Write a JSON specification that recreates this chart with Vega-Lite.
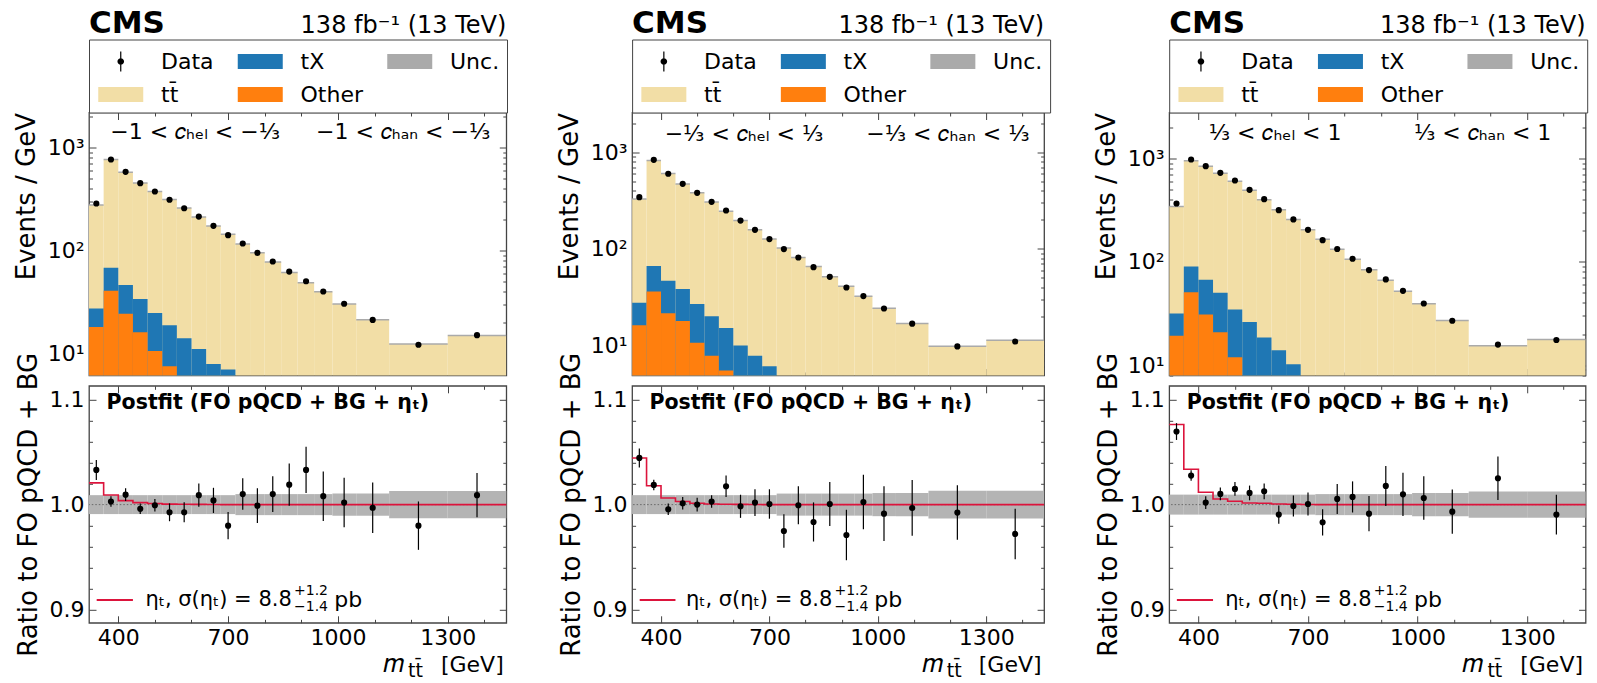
{
"$schema": "https://vega.github.io/schema/vega-lite/v6.json",
"padding": {"left": 12, "top": 6.5, "right": 5, "bottom": 5},
"config": {
  "font": "DejaVu Sans",
  "view": {"stroke": "#444", "strokeWidth": 1.3},
  "axis": {"grid": false, "domain": false, "tickColor": "#444", "tickWidth": 1, "labelFontSize": 22, "labelColor": "black", "labelFont": "DejaVu Sans", "titleFontSize": 26, "titleFontWeight": "normal", "titleColor": "black", "titleFont": "DejaVu Sans"},
  "text": {"font": "DejaVu Sans", "color": "black"}
},
"datasets": {
  "bins": [
{"p":1,"lo":320,"hi":360,"m":340,"tot":278,"txs":27.2,"oth":18,"d":287,"r":1.033,"rlo":1.0235,"rhi":1.0425,"ulo":0.991,"uhi":1.009},
{"p":1,"lo":360,"hi":400,"m":380,"tot":768,"txs":67.8,"oth":40.5,"d":770,"r":1.003,"rlo":0.998,"rhi":1.008,"ulo":0.991,"uhi":1.009},
{"p":1,"lo":400,"hi":440,"m":420,"tot":578,"txs":46.3,"oth":24.3,"d":584,"r":1.0095,"rlo":1.0035,"rhi":1.0155,"ulo":0.991,"uhi":1.009},
{"p":1,"lo":440,"hi":480,"m":460,"tot":455,"txs":33.8,"oth":16,"d":453,"r":0.996,"rlo":0.991,"rhi":1.001,"ulo":0.991,"uhi":1.009},
{"p":1,"lo":480,"hi":520,"m":500,"tot":376,"txs":24.7,"oth":10.5,"d":376,"r":0.9994,"rlo":0.9934,"rhi":1.0054,"ulo":0.991,"uhi":1.009},
{"p":1,"lo":520,"hi":560,"m":540,"tot":314,"txs":18.7,"oth":7.47,"d":312,"r":0.9927,"rlo":0.9842,"rhi":1.0012,"ulo":0.991,"uhi":1.009},
{"p":1,"lo":560,"hi":600,"m":580,"tot":260,"txs":14,"d":258,"r":0.9927,"rlo":0.9832,"rhi":1.0022,"ulo":0.991,"uhi":1.009},
{"p":1,"lo":600,"hi":640,"m":620,"tot":212,"txs":11,"d":214,"r":1.009,"rlo":0.998,"rhi":1.02,"ulo":0.991,"uhi":1.009},
{"p":1,"lo":640,"hi":680,"m":660,"tot":173,"txs":7.87,"d":174,"r":1.004,"rlo":0.992,"rhi":1.016,"ulo":0.991,"uhi":1.009},
{"p":1,"lo":680,"hi":720,"m":700,"tot":144,"txs":6.93,"d":141,"r":0.98,"rlo":0.967,"rhi":0.993,"ulo":0.991,"uhi":1.009},
{"p":1,"lo":720,"hi":760,"m":740,"tot":116,"d":117,"r":1.01,"rlo":0.995,"rhi":1.025,"ulo":0.99,"uhi":1.01},
{"p":1,"lo":760,"hi":800,"m":780,"tot":95,"d":94.9,"r":0.999,"rlo":0.9825,"rhi":1.0155,"ulo":0.99,"uhi":1.01},
{"p":1,"lo":800,"hi":845,"m":822,"tot":77.4,"d":78.2,"r":1.01,"rlo":0.993,"rhi":1.027,"ulo":0.99,"uhi":1.01},
{"p":1,"lo":845,"hi":890,"m":867,"tot":61.2,"d":62.4,"r":1.019,"rlo":0.999,"rhi":1.039,"ulo":0.99,"uhi":1.01},
{"p":1,"lo":890,"hi":935,"m":913,"tot":48.6,"d":50.2,"r":1.033,"rlo":1.011,"rhi":1.055,"ulo":0.99,"uhi":1.01},
{"p":1,"lo":935,"hi":985,"m":960,"tot":39.6,"d":39.9,"r":1.008,"rlo":0.9845,"rhi":1.0315,"ulo":0.99,"uhi":1.01},
{"p":1,"lo":985,"hi":1050,"m":1017,"tot":30.2,"d":30.3,"r":1.002,"rlo":0.9785,"rhi":1.0255,"ulo":0.9895,"uhi":1.0105},
{"p":1,"lo":1050,"hi":1140,"m":1095,"tot":21.2,"d":21.1,"r":0.997,"rlo":0.973,"rhi":1.021,"ulo":0.9895,"uhi":1.0105},
{"p":1,"lo":1140,"hi":1300,"m":1220,"tot":12.3,"d":12.1,"r":0.98,"rlo":0.957,"rhi":1.003,"ulo":0.987,"uhi":1.013},
{"p":1,"lo":1300,"hi":1460,"m":1380,"tot":14.9,"d":15,"r":1.009,"rlo":0.988,"rhi":1.03,"ulo":0.987,"uhi":1.013},
{"p":2,"lo":320,"hi":360,"m":340,"tot":327,"txs":27.6,"oth":16.2,"d":342,"r":1.0444,"rlo":1.0354,"rhi":1.0534,"ulo":0.991,"uhi":1.009},
{"p":2,"lo":360,"hi":400,"m":380,"tot":818,"txs":66.2,"oth":36.2,"d":833,"r":1.0187,"rlo":1.0137,"rhi":1.0237,"ulo":0.991,"uhi":1.009},
{"p":2,"lo":400,"hi":440,"m":420,"tot":600,"txs":46.7,"oth":21.6,"d":597,"r":0.9956,"rlo":0.9901,"rhi":1.0011,"ulo":0.991,"uhi":1.009},
{"p":2,"lo":440,"hi":480,"m":460,"tot":469,"txs":38.3,"oth":17.9,"d":470,"r":1.0013,"rlo":0.9953,"rhi":1.0073,"ulo":0.991,"uhi":1.009},
{"p":2,"lo":480,"hi":520,"m":500,"tot":379,"txs":26.8,"oth":10.7,"d":379,"r":1.0,"rlo":0.9935,"rhi":1.0065,"ulo":0.991,"uhi":1.009},
{"p":2,"lo":520,"hi":560,"m":540,"tot":305,"txs":20.1,"oth":7.82,"d":306,"r":1.0029,"rlo":0.9969,"rhi":1.0089,"ulo":0.991,"uhi":1.009},
{"p":2,"lo":560,"hi":600,"m":580,"tot":245,"txs":15.2,"oth":5.51,"d":249,"r":1.0175,"rlo":1.0072,"rhi":1.0278,"ulo":0.991,"uhi":1.009},
{"p":2,"lo":600,"hi":640,"m":620,"tot":196,"txs":10,"d":196,"r":0.9984,"rlo":0.9874,"rhi":1.0094,"ulo":0.991,"uhi":1.009},
{"p":2,"lo":640,"hi":680,"m":660,"tot":157,"txs":7.82,"d":157,"r":1.0019,"rlo":0.9892,"rhi":1.0146,"ulo":0.991,"uhi":1.009},
{"p":2,"lo":680,"hi":720,"m":700,"tot":126,"txs":6.11,"d":126,"r":1.0006,"rlo":0.9866,"rhi":1.0146,"ulo":0.991,"uhi":1.009},
{"p":2,"lo":720,"hi":760,"m":740,"tot":101.9,"d":99.3,"r":0.9749,"rlo":0.9589,"rhi":0.9909,"ulo":0.9895,"uhi":1.0105},
{"p":2,"lo":760,"hi":800,"m":780,"tot":81.3,"d":81.3,"r":0.9994,"rlo":0.9814,"rhi":1.0174,"ulo":0.9895,"uhi":1.0105},
{"p":2,"lo":800,"hi":845,"m":822,"tot":65.7,"d":64.6,"r":0.9835,"rlo":0.9649,"rhi":1.0021,"ulo":0.9895,"uhi":1.0105},
{"p":2,"lo":845,"hi":890,"m":867,"tot":51.3,"d":51.3,"r":1.0006,"rlo":0.9796,"rhi":1.0216,"ulo":0.9895,"uhi":1.0105},
{"p":2,"lo":890,"hi":935,"m":913,"tot":41,"d":39.8,"r":0.9711,"rlo":0.9471,"rhi":0.9951,"ulo":0.9895,"uhi":1.0105},
{"p":2,"lo":935,"hi":985,"m":960,"tot":32.3,"d":32.4,"r":1.0025,"rlo":0.9765,"rhi":1.0285,"ulo":0.9895,"uhi":1.0105},
{"p":2,"lo":985,"hi":1050,"m":1017,"tot":24.3,"d":24.1,"r":0.9914,"rlo":0.9654,"rhi":1.0174,"ulo":0.989,"uhi":1.011},
{"p":2,"lo":1050,"hi":1140,"m":1095,"tot":16.9,"d":16.8,"r":0.9968,"rlo":0.9703,"rhi":1.0233,"ulo":0.989,"uhi":1.011},
{"p":2,"lo":1140,"hi":1300,"m":1220,"tot":9.84,"d":9.77,"r":0.9924,"rlo":0.9665,"rhi":1.0183,"ulo":0.9867,"uhi":1.0133},
{"p":2,"lo":1300,"hi":1460,"m":1380,"tot":11.3,"d":11,"r":0.9721,"rlo":0.9481,"rhi":0.9961,"ulo":0.9867,"uhi":1.0133},
{"p":3,"lo":320,"hi":360,"m":340,"tot":343,"txs":31.6,"oth":19.2,"d":367,"r":1.0695,"rlo":1.0615,"rhi":1.0775,"ulo":0.9905,"uhi":1.0095},
{"p":3,"lo":360,"hi":400,"m":380,"tot":952,"txs":90.2,"oth":50.8,"d":978,"r":1.0276,"rlo":1.0226,"rhi":1.0326,"ulo":0.9905,"uhi":1.0095},
{"p":3,"lo":400,"hi":440,"m":420,"tot":841,"txs":67,"oth":30.9,"d":843,"r":1.0019,"rlo":0.9959,"rhi":1.0079,"ulo":0.9905,"uhi":1.0095},
{"p":3,"lo":440,"hi":480,"m":460,"tot":719,"txs":50.1,"oth":20.8,"d":726,"r":1.0102,"rlo":1.0042,"rhi":1.0162,"ulo":0.9905,"uhi":1.0095},
{"p":3,"lo":480,"hi":520,"m":500,"tot":603,"txs":34.6,"oth":11.9,"d":612,"r":1.0149,"rlo":1.0084,"rhi":1.0214,"ulo":0.9905,"uhi":1.0095},
{"p":3,"lo":520,"hi":560,"m":540,"tot":492,"txs":26.1,"d":497,"r":1.0111,"rlo":1.0041,"rhi":1.0181,"ulo":0.9905,"uhi":1.0095},
{"p":3,"lo":560,"hi":600,"m":580,"tot":399,"txs":18.5,"d":404,"r":1.0127,"rlo":1.0052,"rhi":1.0202,"ulo":0.9905,"uhi":1.0095},
{"p":3,"lo":600,"hi":640,"m":620,"tot":319,"txs":13.9,"d":316,"r":0.9905,"rlo":0.9818,"rhi":0.9992,"ulo":0.9905,"uhi":1.0095},
{"p":3,"lo":640,"hi":680,"m":660,"tot":257,"txs":10.2,"d":257,"r":0.9987,"rlo":0.9887,"rhi":1.0087,"ulo":0.9905,"uhi":1.0095},
{"p":3,"lo":680,"hi":720,"m":700,"tot":204,"d":204,"r":1.0006,"rlo":0.9896,"rhi":1.0116,"ulo":0.9905,"uhi":1.0095},
{"p":3,"lo":720,"hi":760,"m":740,"tot":165,"d":162,"r":0.9832,"rlo":0.9707,"rhi":0.9957,"ulo":0.99,"uhi":1.01},
{"p":3,"lo":760,"hi":800,"m":780,"tot":132,"d":133,"r":1.0054,"rlo":0.9911,"rhi":1.0197,"ulo":0.99,"uhi":1.01},
{"p":3,"lo":800,"hi":845,"m":822,"tot":106,"d":107,"r":1.0073,"rlo":0.9925,"rhi":1.0221,"ulo":0.99,"uhi":1.01},
{"p":3,"lo":845,"hi":890,"m":867,"tot":83.8,"d":83.1,"r":0.9914,"rlo":0.9747,"rhi":1.0081,"ulo":0.99,"uhi":1.01},
{"p":3,"lo":890,"hi":935,"m":913,"tot":66.3,"d":67.5,"r":1.0178,"rlo":0.9988,"rhi":1.0368,"ulo":0.99,"uhi":1.01},
{"p":3,"lo":935,"hi":985,"m":960,"tot":51.9,"d":52.4,"r":1.0098,"rlo":0.9892,"rhi":1.0304,"ulo":0.99,"uhi":1.01},
{"p":3,"lo":985,"hi":1050,"m":1017,"tot":39.3,"d":39.5,"r":1.0063,"rlo":0.9857,"rhi":1.0269,"ulo":0.989,"uhi":1.011},
{"p":3,"lo":1050,"hi":1140,"m":1095,"tot":27.1,"d":26.9,"r":0.9933,"rlo":0.9723,"rhi":1.0143,"ulo":0.989,"uhi":1.011},
{"p":3,"lo":1140,"hi":1300,"m":1220,"tot":15.4,"d":15.8,"r":1.0251,"rlo":1.0045,"rhi":1.0457,"ulo":0.9875,"uhi":1.0125},
{"p":3,"lo":1300,"hi":1460,"m":1380,"tot":17.7,"d":17.5,"r":0.9905,"rlo":0.9715,"rhi":1.0095,"ulo":0.9875,"uhi":1.0125}
  ],
  "eta": [
{"p":1,"x":320,"e":1.0207},{"p":1,"x":360,"e":1.0092},{"p":1,"x":400,"e":1.0038},{"p":1,"x":440,"e":1.0019},{"p":1,"x":480,"e":1.001},{"p":1,"x":520,"e":1.0005},{"p":1,"x":560,"e":1.0003},{"p":1,"x":600,"e":1.0002},{"p":1,"x":640,"e":1.0001},{"p":1,"x":680,"e":1},{"p":1,"x":720,"e":1},{"p":1,"x":760,"e":1},{"p":1,"x":800,"e":1},{"p":1,"x":845,"e":1},{"p":1,"x":890,"e":1},{"p":1,"x":935,"e":1},{"p":1,"x":985,"e":1},{"p":1,"x":1050,"e":1},{"p":1,"x":1140,"e":1},{"p":1,"x":1300,"e":1},{"p":1,"x":1460,"e":1},
{"p":2,"x":320,"e":1.0444},{"p":2,"x":360,"e":1.018},{"p":2,"x":400,"e":1.0063},{"p":2,"x":440,"e":1.003},{"p":2,"x":480,"e":1.0013},{"p":2,"x":520,"e":1.0006},{"p":2,"x":560,"e":1.0003},{"p":2,"x":600,"e":1.0002},{"p":2,"x":640,"e":1.0001},{"p":2,"x":680,"e":1},{"p":2,"x":720,"e":1},{"p":2,"x":760,"e":1},{"p":2,"x":800,"e":1},{"p":2,"x":845,"e":1},{"p":2,"x":890,"e":1},{"p":2,"x":935,"e":1},{"p":2,"x":985,"e":1},{"p":2,"x":1050,"e":1},{"p":2,"x":1140,"e":1},{"p":2,"x":1300,"e":1},{"p":2,"x":1460,"e":1},
{"p":3,"x":320,"e":1.0762},{"p":3,"x":360,"e":1.0337},{"p":3,"x":400,"e":1.0117},{"p":3,"x":440,"e":1.0054},{"p":3,"x":480,"e":1.0032},{"p":3,"x":520,"e":1.0016},{"p":3,"x":560,"e":1.0013},{"p":3,"x":600,"e":1.0006},{"p":3,"x":640,"e":1.0003},{"p":3,"x":680,"e":1.0001},{"p":3,"x":720,"e":1},{"p":3,"x":760,"e":1},{"p":3,"x":800,"e":1},{"p":3,"x":845,"e":1},{"p":3,"x":890,"e":1},{"p":3,"x":935,"e":1},{"p":3,"x":985,"e":1},{"p":3,"x":1050,"e":1},{"p":3,"x":1140,"e":1},{"p":3,"x":1300,"e":1},{"p":3,"x":1460,"e":1}
  ]
},
"resolve": {"scale": {"color": "independent"}},
"bounds": "flush",
"align": "each",
"columns": 3,
"spacing": {"row": 10.3, "column": 125.1},
"concat": [
  {
   "width": 417.3, "height": 263,
   "resolve": {"axis": {"x": "independent", "y": "independent"}},
   "layer": [
    {"data": {"name": "bins"}, "transform": [{"filter": "datum.p == 1"}],
     "mark": {"type": "rect", "clip": true},
     "encoding": {
      "x": {"field": "lo", "type": "quantitative", "scale": {"domain": [320, 1460], "nice": false, "zero": false},
            "axis": {"orient": "bottom", "values": [400,500,600,700,800,900,1000,1100,1200,1300,1400], "labels": false, "title": null, "tickSize": {"expr": "datum.value % 300 == 100 ? -7 : -3.5"}}},
      "x2": {"field": "hi"},
      "y": {"field": "tot", "type": "quantitative", "scale": {"type": "log", "domain": [6.07, 2208], "nice": false},
            "axis": {"orient": "left", "values": [7,8,9,10,20,30,40,50,60,70,80,90,100,200,300,400,500,600,700,800,900,1000,2000], "labelExpr": "datum.value == 10 ? '10¹' : datum.value == 100 ? '10²' : datum.value == 1000 ? '10³' : ''", "tickSize": {"expr": "(datum.value == 10 || datum.value == 100 || datum.value == 1000) ? -7 : -3.5"}, "labelPadding": 12, "title": "Events / GeV", "titleAnchor": "end", "titlePadding": 8}},
      "y2": {"datum": 1},
      "color": {"datum": "tt̄", "scale": {"domain": ["Data", "tX", "Unc.", "tt̄", "Other"], "range": ["black", "#1f77b4", "#aaaaaa", "#f2dea6", "#ff7f0e"]},
        "legend": {"orient": "none", "direction": "horizontal", "legendX": 0, "legendY": -73, "columns": 3, "title": null, "strokeColor": "#444", "fillColor": "white", "padding": 7, "rowPadding": 7, "columnPadding": 21.5, "symbolSize": 900, "labelFontSize": 22, "labelFont": "DejaVu Sans", "labelColor": "black", "labelOffset": 35, "labelLimit": 300, "symbolStrokeWidth": 0, "cornerRadius": 0,
          "encode": {"symbols": {"update": {
            "shape": [{"test": "datum.value === 'Data'", "value": "M0.43,0A0.22,0.22,0,1,1,0.87,0A0.22,0.22,0,1,1,0.43,0ZM0.61,-0.67H0.69V0.67H0.61Z"}, {"value": "M-0.85,-0.5H2.15V0.5H-0.85Z"}],
            "fill": [{"test": "datum.value === 'Data'", "value": "black"}, {"test": "datum.value === 'tX'", "value": "#1f77b4"}, {"test": "datum.value === 'Unc.'", "value": "#aaaaaa"}, {"test": "datum.value === 'Other'", "value": "#ff7f0e"}, {"value": "#f2dea6"}],
            "opacity": {"value": 1},
            "strokeWidth": {"value": 0}
          }}}}}
     }},
    {"data": {"name": "bins"}, "transform": [{"filter": "datum.p == 1 && isValid(datum.txs)"}],
     "mark": {"type": "rect", "clip": true},
     "encoding": {"x": {"field": "lo", "type": "quantitative", "axis": null}, "x2": {"field": "hi"}, "y": {"field": "txs", "type": "quantitative", "axis": null}, "y2": {"datum": 1}, "color": {"datum": "tX"}}},
    {"data": {"name": "bins"}, "transform": [{"filter": "datum.p == 1 && isValid(datum.oth)"}],
     "mark": {"type": "rect", "clip": true},
     "encoding": {"x": {"field": "lo", "type": "quantitative", "axis": null}, "x2": {"field": "hi"}, "y": {"field": "oth", "type": "quantitative", "axis": null}, "y2": {"datum": 1}, "color": {"datum": "Other"}}},
    {"data": {"name": "bins"}, "transform": [{"filter": "datum.p == 1"}],
     "mark": {"type": "rule", "strokeWidth": 1.5, "clip": true},
     "encoding": {"x": {"field": "lo", "type": "quantitative", "axis": null}, "x2": {"field": "hi"}, "y": {"field": "tot", "type": "quantitative", "axis": null}, "color": {"datum": "Unc."}}},
    {"data": {"name": "bins"}, "transform": [{"filter": "datum.p == 1"}],
     "mark": {"type": "point", "filled": true, "size": 38, "opacity": 1},
     "encoding": {
      "x": {"field": "m", "type": "quantitative", "axis": {"orient": "top", "values": [400,500,600,700,800,900,1000,1100,1200,1300,1400], "labels": false, "title": null, "tickSize": {"expr": "datum.value % 300 == 100 ? -7 : -3.5"}}},
      "y": {"field": "d", "type": "quantitative", "axis": {"orient": "right", "values": [7,8,9,10,20,30,40,50,60,70,80,90,100,200,300,400,500,600,700,800,900,1000,2000], "labels": false, "title": null, "tickSize": {"expr": "(datum.value == 10 || datum.value == 100 || datum.value == 1000) ? -7 : -3.5"}}},
      "color": {"datum": "Data"}}},
    {"data": {"values": [{"t": "−1 < 𝑐ₕₑₗ < −⅓"}]}, "mark": {"type": "text", "align": "left", "baseline": "middle", "fontSize": 22},
     "encoding": {"x": {"datum": 378, "axis": null}, "y": {"datum": 1419, "axis": null}, "text": {"field": "t"}}},
    {"data": {"values": [{"t": "−1 < 𝑐ₕₐₙ < −⅓"}]}, "mark": {"type": "text", "align": "left", "baseline": "middle", "fontSize": 22},
     "encoding": {"x": {"datum": 940, "axis": null}, "y": {"datum": 1419, "axis": null}, "text": {"field": "t"}}},
    {"data": {"values": [{"t": "CMS"}]}, "mark": {"type": "text", "align": "left", "baseline": "alphabetic", "fontSize": 31, "fontWeight": "bold"},
     "encoding": {"x": {"datum": 320, "axis": null}, "y": {"datum": 13130, "axis": null}, "text": {"field": "t"}}},
    {"data": {"values": [{"t": "138 fb⁻¹ (13 TeV)"}]}, "mark": {"type": "text", "align": "right", "baseline": "alphabetic", "fontSize": 24},
     "encoding": {"x": {"datum": 1460, "axis": null}, "y": {"datum": 13130, "axis": null}, "text": {"field": "t"}}}
   ]
  },
  {
   "width": 412, "height": 263,
   "resolve": {"axis": {"x": "independent", "y": "independent"}},
   "layer": [
    {"data": {"name": "bins"}, "transform": [{"filter": "datum.p == 2"}],
     "mark": {"type": "rect", "clip": true},
     "encoding": {
      "x": {"field": "lo", "type": "quantitative", "scale": {"domain": [320, 1460], "nice": false, "zero": false},
            "axis": {"orient": "bottom", "values": [400,500,600,700,800,900,1000,1100,1200,1300,1400], "labels": false, "title": null, "tickSize": {"expr": "datum.value % 300 == 100 ? -7 : -3.5"}}},
      "x2": {"field": "hi"},
      "y": {"field": "tot", "type": "quantitative", "scale": {"type": "log", "domain": [4.89, 2570], "nice": false},
            "axis": {"orient": "left", "values": [5,6,7,8,9,10,20,30,40,50,60,70,80,90,100,200,300,400,500,600,700,800,900,1000,2000], "labelExpr": "datum.value == 10 ? '10¹' : datum.value == 100 ? '10²' : datum.value == 1000 ? '10³' : ''", "tickSize": {"expr": "(datum.value == 10 || datum.value == 100 || datum.value == 1000) ? -7 : -3.5"}, "labelPadding": 12, "title": "Events / GeV", "titleAnchor": "end", "titlePadding": 8}},
      "y2": {"datum": 1},
      "color": {"datum": "tt̄", "scale": {"domain": ["Data", "tX", "Unc.", "tt̄", "Other"], "range": ["black", "#1f77b4", "#aaaaaa", "#f2dea6", "#ff7f0e"]},
        "legend": {"orient": "none", "direction": "horizontal", "legendX": 0, "legendY": -73, "columns": 3, "title": null, "strokeColor": "#444", "fillColor": "white", "padding": 7, "rowPadding": 7, "columnPadding": 21.5, "symbolSize": 900, "labelFontSize": 22, "labelFont": "DejaVu Sans", "labelColor": "black", "labelOffset": 35, "labelLimit": 300, "symbolStrokeWidth": 0, "cornerRadius": 0,
          "encode": {"symbols": {"update": {
            "shape": [{"test": "datum.value === 'Data'", "value": "M0.43,0A0.22,0.22,0,1,1,0.87,0A0.22,0.22,0,1,1,0.43,0ZM0.61,-0.67H0.69V0.67H0.61Z"}, {"value": "M-0.85,-0.5H2.15V0.5H-0.85Z"}],
            "fill": [{"test": "datum.value === 'Data'", "value": "black"}, {"test": "datum.value === 'tX'", "value": "#1f77b4"}, {"test": "datum.value === 'Unc.'", "value": "#aaaaaa"}, {"test": "datum.value === 'Other'", "value": "#ff7f0e"}, {"value": "#f2dea6"}],
            "opacity": {"value": 1},
            "strokeWidth": {"value": 0}
          }}}}}
     }},
    {"data": {"name": "bins"}, "transform": [{"filter": "datum.p == 2 && isValid(datum.txs)"}],
     "mark": {"type": "rect", "clip": true},
     "encoding": {"x": {"field": "lo", "type": "quantitative", "axis": null}, "x2": {"field": "hi"}, "y": {"field": "txs", "type": "quantitative", "axis": null}, "y2": {"datum": 1}, "color": {"datum": "tX"}}},
    {"data": {"name": "bins"}, "transform": [{"filter": "datum.p == 2 && isValid(datum.oth)"}],
     "mark": {"type": "rect", "clip": true},
     "encoding": {"x": {"field": "lo", "type": "quantitative", "axis": null}, "x2": {"field": "hi"}, "y": {"field": "oth", "type": "quantitative", "axis": null}, "y2": {"datum": 1}, "color": {"datum": "Other"}}},
    {"data": {"name": "bins"}, "transform": [{"filter": "datum.p == 2"}],
     "mark": {"type": "rule", "strokeWidth": 1.5, "clip": true},
     "encoding": {"x": {"field": "lo", "type": "quantitative", "axis": null}, "x2": {"field": "hi"}, "y": {"field": "tot", "type": "quantitative", "axis": null}, "color": {"datum": "Unc."}}},
    {"data": {"name": "bins"}, "transform": [{"filter": "datum.p == 2"}],
     "mark": {"type": "point", "filled": true, "size": 38, "opacity": 1},
     "encoding": {
      "x": {"field": "m", "type": "quantitative", "axis": {"orient": "top", "values": [400,500,600,700,800,900,1000,1100,1200,1300,1400], "labels": false, "title": null, "tickSize": {"expr": "datum.value % 300 == 100 ? -7 : -3.5"}}},
      "y": {"field": "d", "type": "quantitative", "axis": {"orient": "right", "values": [5,6,7,8,9,10,20,30,40,50,60,70,80,90,100,200,300,400,500,600,700,800,900,1000,2000], "labels": false, "title": null, "tickSize": {"expr": "(datum.value == 10 || datum.value == 100 || datum.value == 1000) ? -7 : -3.5"}}},
      "color": {"datum": "Data"}}},
    {"data": {"values": [{"t": "−⅓ < 𝑐ₕₑₗ < ⅓"}]}, "mark": {"type": "text", "align": "left", "baseline": "middle", "fontSize": 22},
     "encoding": {"x": {"datum": 410, "axis": null}, "y": {"datum": 1549, "axis": null}, "text": {"field": "t"}}},
    {"data": {"values": [{"t": "−⅓ < 𝑐ₕₐₙ < ⅓"}]}, "mark": {"type": "text", "align": "left", "baseline": "middle", "fontSize": 22},
     "encoding": {"x": {"datum": 968, "axis": null}, "y": {"datum": 1549, "axis": null}, "text": {"field": "t"}}},
    {"data": {"values": [{"t": "CMS"}]}, "mark": {"type": "text", "align": "left", "baseline": "alphabetic", "fontSize": 31, "fontWeight": "bold"},
     "encoding": {"x": {"datum": 320, "axis": null}, "y": {"datum": 17060, "axis": null}, "text": {"field": "t"}}},
    {"data": {"values": [{"t": "138 fb⁻¹ (13 TeV)"}]}, "mark": {"type": "text", "align": "right", "baseline": "alphabetic", "fontSize": 24},
     "encoding": {"x": {"datum": 1460, "axis": null}, "y": {"datum": 17060, "axis": null}, "text": {"field": "t"}}}
   ]
  },
  {
   "width": 416.4, "height": 263,
   "resolve": {"axis": {"x": "independent", "y": "independent"}},
   "layer": [
    {"data": {"name": "bins"}, "transform": [{"filter": "datum.p == 3"}],
     "mark": {"type": "rect", "clip": true},
     "encoding": {
      "x": {"field": "lo", "type": "quantitative", "scale": {"domain": [320, 1460], "nice": false, "zero": false},
            "axis": {"orient": "bottom", "values": [400,500,600,700,800,900,1000,1100,1200,1300,1400], "labels": false, "title": null, "tickSize": {"expr": "datum.value % 300 == 100 ? -7 : -3.5"}}},
      "x2": {"field": "hi"},
      "y": {"field": "tot", "type": "quantitative", "scale": {"type": "log", "domain": [7.94, 2786], "nice": false},
            "axis": {"orient": "left", "values": [8,9,10,20,30,40,50,60,70,80,90,100,200,300,400,500,600,700,800,900,1000,2000], "labelExpr": "datum.value == 10 ? '10¹' : datum.value == 100 ? '10²' : datum.value == 1000 ? '10³' : ''", "tickSize": {"expr": "(datum.value == 10 || datum.value == 100 || datum.value == 1000) ? -7 : -3.5"}, "labelPadding": 12, "title": "Events / GeV", "titleAnchor": "end", "titlePadding": 8}},
      "y2": {"datum": 1},
      "color": {"datum": "tt̄", "scale": {"domain": ["Data", "tX", "Unc.", "tt̄", "Other"], "range": ["black", "#1f77b4", "#aaaaaa", "#f2dea6", "#ff7f0e"]},
        "legend": {"orient": "none", "direction": "horizontal", "legendX": 0, "legendY": -73, "columns": 3, "title": null, "strokeColor": "#444", "fillColor": "white", "padding": 7, "rowPadding": 7, "columnPadding": 21.5, "symbolSize": 900, "labelFontSize": 22, "labelFont": "DejaVu Sans", "labelColor": "black", "labelOffset": 35, "labelLimit": 300, "symbolStrokeWidth": 0, "cornerRadius": 0,
          "encode": {"symbols": {"update": {
            "shape": [{"test": "datum.value === 'Data'", "value": "M0.43,0A0.22,0.22,0,1,1,0.87,0A0.22,0.22,0,1,1,0.43,0ZM0.61,-0.67H0.69V0.67H0.61Z"}, {"value": "M-0.85,-0.5H2.15V0.5H-0.85Z"}],
            "fill": [{"test": "datum.value === 'Data'", "value": "black"}, {"test": "datum.value === 'tX'", "value": "#1f77b4"}, {"test": "datum.value === 'Unc.'", "value": "#aaaaaa"}, {"test": "datum.value === 'Other'", "value": "#ff7f0e"}, {"value": "#f2dea6"}],
            "opacity": {"value": 1},
            "strokeWidth": {"value": 0}
          }}}}}
     }},
    {"data": {"name": "bins"}, "transform": [{"filter": "datum.p == 3 && isValid(datum.txs)"}],
     "mark": {"type": "rect", "clip": true},
     "encoding": {"x": {"field": "lo", "type": "quantitative", "axis": null}, "x2": {"field": "hi"}, "y": {"field": "txs", "type": "quantitative", "axis": null}, "y2": {"datum": 1}, "color": {"datum": "tX"}}},
    {"data": {"name": "bins"}, "transform": [{"filter": "datum.p == 3 && isValid(datum.oth)"}],
     "mark": {"type": "rect", "clip": true},
     "encoding": {"x": {"field": "lo", "type": "quantitative", "axis": null}, "x2": {"field": "hi"}, "y": {"field": "oth", "type": "quantitative", "axis": null}, "y2": {"datum": 1}, "color": {"datum": "Other"}}},
    {"data": {"name": "bins"}, "transform": [{"filter": "datum.p == 3"}],
     "mark": {"type": "rule", "strokeWidth": 1.5, "clip": true},
     "encoding": {"x": {"field": "lo", "type": "quantitative", "axis": null}, "x2": {"field": "hi"}, "y": {"field": "tot", "type": "quantitative", "axis": null}, "color": {"datum": "Unc."}}},
    {"data": {"name": "bins"}, "transform": [{"filter": "datum.p == 3"}],
     "mark": {"type": "point", "filled": true, "size": 38, "opacity": 1},
     "encoding": {
      "x": {"field": "m", "type": "quantitative", "axis": {"orient": "top", "values": [400,500,600,700,800,900,1000,1100,1200,1300,1400], "labels": false, "title": null, "tickSize": {"expr": "datum.value % 300 == 100 ? -7 : -3.5"}}},
      "y": {"field": "d", "type": "quantitative", "axis": {"orient": "right", "values": [8,9,10,20,30,40,50,60,70,80,90,100,200,300,400,500,600,700,800,900,1000,2000], "labels": false, "title": null, "tickSize": {"expr": "(datum.value == 10 || datum.value == 100 || datum.value == 1000) ? -7 : -3.5"}}},
      "color": {"datum": "Data"}}},
    {"data": {"values": [{"t": "⅓ < 𝑐ₕₑₗ < 1"}]}, "mark": {"type": "text", "align": "left", "baseline": "middle", "fontSize": 22},
     "encoding": {"x": {"datum": 428, "axis": null}, "y": {"datum": 1746, "axis": null}, "text": {"field": "t"}}},
    {"data": {"values": [{"t": "⅓ < 𝑐ₕₐₙ < 1"}]}, "mark": {"type": "text", "align": "left", "baseline": "middle", "fontSize": 22},
     "encoding": {"x": {"datum": 990, "axis": null}, "y": {"datum": 1746, "axis": null}, "text": {"field": "t"}}},
    {"data": {"values": [{"t": "CMS"}]}, "mark": {"type": "text", "align": "left", "baseline": "alphabetic", "fontSize": 31, "fontWeight": "bold"},
     "encoding": {"x": {"datum": 320, "axis": null}, "y": {"datum": 16370, "axis": null}, "text": {"field": "t"}}},
    {"data": {"values": [{"t": "138 fb⁻¹ (13 TeV)"}]}, "mark": {"type": "text", "align": "right", "baseline": "alphabetic", "fontSize": 24},
     "encoding": {"x": {"datum": 1460, "axis": null}, "y": {"datum": 16370, "axis": null}, "text": {"field": "t"}}}
   ]
  },
  {
   "width": 417.3, "height": 237,
   "resolve": {"axis": {"x": "independent", "y": "independent"}},
   "layer": [
    {"data": {"name": "bins"}, "transform": [{"filter": "datum.p == 1"}],
     "mark": {"type": "rect", "color": "#b4b4b4"},
     "encoding": {
      "x": {"field": "lo", "type": "quantitative", "scale": {"domain": [320, 1460], "nice": false, "zero": false},
            "axis": {"orient": "bottom", "values": [400,500,600,700,800,900,1000,1100,1200,1300,1400], "format": "d", "labelExpr": "datum.value % 300 == 100 ? datum.label : ''", "tickSize": {"expr": "datum.value % 300 == 100 ? -7 : -3.5"}, "labelPadding": 12, "title": null}},
      "x2": {"field": "hi"},
      "y": {"field": "ulo", "type": "quantitative", "scale": {"domain": [0.8876, 1.113], "nice": false, "zero": false},
            "axis": {"orient": "left", "values": [0.9,0.92,0.94,0.96,0.98,1,1.02,1.04,1.06,1.08,1.1], "labelExpr": "abs(datum.value*10 - round(datum.value*10)) < 0.001 ? format(datum.value, '.1f') : ''", "tickSize": {"expr": "abs(datum.value*10 - round(datum.value*10)) < 0.001 ? -7 : -3.5"}, "labelPadding": 12, "title": "Ratio to FO pQCD + BG", "titlePadding": 8}},
      "y2": {"field": "uhi"}}},
    {"data": {"values": [{}]}, "mark": {"type": "rule", "strokeDash": [1.5, 2], "color": "#555", "strokeWidth": 0.8},
     "encoding": {"y": {"datum": 1, "axis": null}}},
    {"data": {"name": "eta"}, "transform": [{"filter": "datum.p == 1"}],
     "mark": {"type": "line", "interpolate": "step-after", "color": "#dc143c", "strokeWidth": 1.6},
     "encoding": {
      "x": {"field": "x", "type": "quantitative", "axis": {"orient": "top", "values": [400,500,600,700,800,900,1000,1100,1200,1300,1400], "labels": false, "title": null, "tickSize": {"expr": "datum.value % 300 == 100 ? -7 : -3.5"}}},
      "y": {"field": "e", "type": "quantitative", "axis": {"orient": "right", "values": [0.9,0.92,0.94,0.96,0.98,1,1.02,1.04,1.06,1.08,1.1], "labels": false, "title": null, "tickSize": {"expr": "abs(datum.value*10 - round(datum.value*10)) < 0.001 ? -7 : -3.5"}}}}},
    {"data": {"name": "bins"}, "transform": [{"filter": "datum.p == 1"}],
     "mark": {"type": "rule", "color": "black", "strokeWidth": 1.2},
     "encoding": {"x": {"field": "m", "type": "quantitative", "axis": null}, "y": {"field": "rlo", "type": "quantitative", "axis": null}, "y2": {"field": "rhi"}}},
    {"data": {"name": "bins"}, "transform": [{"filter": "datum.p == 1"}],
     "mark": {"type": "point", "filled": true, "size": 38, "color": "black", "opacity": 1},
     "encoding": {"x": {"field": "m", "type": "quantitative", "axis": null}, "y": {"field": "r", "type": "quantitative", "axis": null}}},
    {"data": {"values": [{}]}, "mark": {"type": "rule", "color": "#dc143c", "strokeWidth": 2},
     "encoding": {"x": {"datum": 341, "axis": null}, "x2": {"datum": 440}, "y": {"datum": 0.9092, "axis": null}}},
    {"data": {"values": [{"t": "ηₜ, σ(ηₜ) = 8.8"}]}, "mark": {"type": "text", "align": "right", "baseline": "middle", "fontSize": 21},
     "encoding": {"x": {"datum": 874, "axis": null}, "y": {"datum": 0.9092, "axis": null}, "text": {"field": "t"}}},
    {"data": {"values": [{"t": "+1.2"}]}, "mark": {"type": "text", "align": "left", "baseline": "middle", "fontSize": 14},
     "encoding": {"x": {"datum": 880, "axis": null}, "y": {"datum": 0.9174, "axis": null}, "text": {"field": "t"}}},
    {"data": {"values": [{"t": "−1.4"}]}, "mark": {"type": "text", "align": "left", "baseline": "middle", "fontSize": 14},
     "encoding": {"x": {"datum": 880, "axis": null}, "y": {"datum": 0.9028, "axis": null}, "text": {"field": "t"}}},
    {"data": {"values": [{"t": "pb"}]}, "mark": {"type": "text", "align": "left", "baseline": "middle", "fontSize": 22},
     "encoding": {"x": {"datum": 990, "axis": null}, "y": {"datum": 0.9092, "axis": null}, "text": {"field": "t"}}},
    {"data": {"values": [{"t": "Postfit (FO pQCD + BG + ηₜ)"}]}, "mark": {"type": "text", "align": "left", "baseline": "middle", "fontSize": 20.5, "fontWeight": "bold"},
     "encoding": {"x": {"datum": 368, "axis": null}, "y": {"datum": 1.0965, "axis": null}, "text": {"field": "t"}}},
    {"data": {"values": [{"t": "[GeV]"}]}, "mark": {"type": "text", "align": "right", "baseline": "alphabetic", "fontSize": 22},
     "encoding": {"x": {"datum": 1453, "axis": null}, "y": {"datum": 0.8405, "axis": null}, "text": {"field": "t"}}},
    {"data": {"values": [{"t": "tt̄"}]}, "mark": {"type": "text", "align": "right", "baseline": "alphabetic", "fontSize": 19},
     "encoding": {"x": {"datum": 1232, "axis": null}, "y": {"datum": 0.8362, "axis": null}, "text": {"field": "t"}}},
    {"data": {"values": [{"t": "𝑚"}]}, "mark": {"type": "text", "align": "right", "baseline": "alphabetic", "fontSize": 26},
     "encoding": {"x": {"datum": 1180, "axis": null}, "y": {"datum": 0.8405, "axis": null}, "text": {"field": "t"}}}
   ]
  },
  {
   "width": 412, "height": 237,
   "resolve": {"axis": {"x": "independent", "y": "independent"}},
   "layer": [
    {"data": {"name": "bins"}, "transform": [{"filter": "datum.p == 2"}],
     "mark": {"type": "rect", "color": "#b4b4b4"},
     "encoding": {
      "x": {"field": "lo", "type": "quantitative", "scale": {"domain": [320, 1460], "nice": false, "zero": false},
            "axis": {"orient": "bottom", "values": [400,500,600,700,800,900,1000,1100,1200,1300,1400], "format": "d", "labelExpr": "datum.value % 300 == 100 ? datum.label : ''", "tickSize": {"expr": "datum.value % 300 == 100 ? -7 : -3.5"}, "labelPadding": 12, "title": null}},
      "x2": {"field": "hi"},
      "y": {"field": "ulo", "type": "quantitative", "scale": {"domain": [0.8876, 1.113], "nice": false, "zero": false},
            "axis": {"orient": "left", "values": [0.9,0.92,0.94,0.96,0.98,1,1.02,1.04,1.06,1.08,1.1], "labelExpr": "abs(datum.value*10 - round(datum.value*10)) < 0.001 ? format(datum.value, '.1f') : ''", "tickSize": {"expr": "abs(datum.value*10 - round(datum.value*10)) < 0.001 ? -7 : -3.5"}, "labelPadding": 12, "title": "Ratio to FO pQCD + BG", "titlePadding": 8}},
      "y2": {"field": "uhi"}}},
    {"data": {"values": [{}]}, "mark": {"type": "rule", "strokeDash": [1.5, 2], "color": "#555", "strokeWidth": 0.8},
     "encoding": {"y": {"datum": 1, "axis": null}}},
    {"data": {"name": "eta"}, "transform": [{"filter": "datum.p == 2"}],
     "mark": {"type": "line", "interpolate": "step-after", "color": "#dc143c", "strokeWidth": 1.6},
     "encoding": {
      "x": {"field": "x", "type": "quantitative", "axis": {"orient": "top", "values": [400,500,600,700,800,900,1000,1100,1200,1300,1400], "labels": false, "title": null, "tickSize": {"expr": "datum.value % 300 == 100 ? -7 : -3.5"}}},
      "y": {"field": "e", "type": "quantitative", "axis": {"orient": "right", "values": [0.9,0.92,0.94,0.96,0.98,1,1.02,1.04,1.06,1.08,1.1], "labels": false, "title": null, "tickSize": {"expr": "abs(datum.value*10 - round(datum.value*10)) < 0.001 ? -7 : -3.5"}}}}},
    {"data": {"name": "bins"}, "transform": [{"filter": "datum.p == 2"}],
     "mark": {"type": "rule", "color": "black", "strokeWidth": 1.2},
     "encoding": {"x": {"field": "m", "type": "quantitative", "axis": null}, "y": {"field": "rlo", "type": "quantitative", "axis": null}, "y2": {"field": "rhi"}}},
    {"data": {"name": "bins"}, "transform": [{"filter": "datum.p == 2"}],
     "mark": {"type": "point", "filled": true, "size": 38, "color": "black", "opacity": 1},
     "encoding": {"x": {"field": "m", "type": "quantitative", "axis": null}, "y": {"field": "r", "type": "quantitative", "axis": null}}},
    {"data": {"values": [{}]}, "mark": {"type": "rule", "color": "#dc143c", "strokeWidth": 2},
     "encoding": {"x": {"datum": 341, "axis": null}, "x2": {"datum": 440}, "y": {"datum": 0.9092, "axis": null}}},
    {"data": {"values": [{"t": "ηₜ, σ(ηₜ) = 8.8"}]}, "mark": {"type": "text", "align": "right", "baseline": "middle", "fontSize": 21},
     "encoding": {"x": {"datum": 874, "axis": null}, "y": {"datum": 0.9092, "axis": null}, "text": {"field": "t"}}},
    {"data": {"values": [{"t": "+1.2"}]}, "mark": {"type": "text", "align": "left", "baseline": "middle", "fontSize": 14},
     "encoding": {"x": {"datum": 880, "axis": null}, "y": {"datum": 0.9174, "axis": null}, "text": {"field": "t"}}},
    {"data": {"values": [{"t": "−1.4"}]}, "mark": {"type": "text", "align": "left", "baseline": "middle", "fontSize": 14},
     "encoding": {"x": {"datum": 880, "axis": null}, "y": {"datum": 0.9028, "axis": null}, "text": {"field": "t"}}},
    {"data": {"values": [{"t": "pb"}]}, "mark": {"type": "text", "align": "left", "baseline": "middle", "fontSize": 22},
     "encoding": {"x": {"datum": 990, "axis": null}, "y": {"datum": 0.9092, "axis": null}, "text": {"field": "t"}}},
    {"data": {"values": [{"t": "Postfit (FO pQCD + BG + ηₜ)"}]}, "mark": {"type": "text", "align": "left", "baseline": "middle", "fontSize": 20.5, "fontWeight": "bold"},
     "encoding": {"x": {"datum": 368, "axis": null}, "y": {"datum": 1.0965, "axis": null}, "text": {"field": "t"}}},
    {"data": {"values": [{"t": "[GeV]"}]}, "mark": {"type": "text", "align": "right", "baseline": "alphabetic", "fontSize": 22},
     "encoding": {"x": {"datum": 1453, "axis": null}, "y": {"datum": 0.8405, "axis": null}, "text": {"field": "t"}}},
    {"data": {"values": [{"t": "tt̄"}]}, "mark": {"type": "text", "align": "right", "baseline": "alphabetic", "fontSize": 19},
     "encoding": {"x": {"datum": 1232, "axis": null}, "y": {"datum": 0.8362, "axis": null}, "text": {"field": "t"}}},
    {"data": {"values": [{"t": "𝑚"}]}, "mark": {"type": "text", "align": "right", "baseline": "alphabetic", "fontSize": 26},
     "encoding": {"x": {"datum": 1180, "axis": null}, "y": {"datum": 0.8405, "axis": null}, "text": {"field": "t"}}}
   ]
  },
  {
   "width": 416.4, "height": 237,
   "resolve": {"axis": {"x": "independent", "y": "independent"}},
   "layer": [
    {"data": {"name": "bins"}, "transform": [{"filter": "datum.p == 3"}],
     "mark": {"type": "rect", "color": "#b4b4b4"},
     "encoding": {
      "x": {"field": "lo", "type": "quantitative", "scale": {"domain": [320, 1460], "nice": false, "zero": false},
            "axis": {"orient": "bottom", "values": [400,500,600,700,800,900,1000,1100,1200,1300,1400], "format": "d", "labelExpr": "datum.value % 300 == 100 ? datum.label : ''", "tickSize": {"expr": "datum.value % 300 == 100 ? -7 : -3.5"}, "labelPadding": 12, "title": null}},
      "x2": {"field": "hi"},
      "y": {"field": "ulo", "type": "quantitative", "scale": {"domain": [0.8876, 1.113], "nice": false, "zero": false},
            "axis": {"orient": "left", "values": [0.9,0.92,0.94,0.96,0.98,1,1.02,1.04,1.06,1.08,1.1], "labelExpr": "abs(datum.value*10 - round(datum.value*10)) < 0.001 ? format(datum.value, '.1f') : ''", "tickSize": {"expr": "abs(datum.value*10 - round(datum.value*10)) < 0.001 ? -7 : -3.5"}, "labelPadding": 12, "title": "Ratio to FO pQCD + BG", "titlePadding": 8}},
      "y2": {"field": "uhi"}}},
    {"data": {"values": [{}]}, "mark": {"type": "rule", "strokeDash": [1.5, 2], "color": "#555", "strokeWidth": 0.8},
     "encoding": {"y": {"datum": 1, "axis": null}}},
    {"data": {"name": "eta"}, "transform": [{"filter": "datum.p == 3"}],
     "mark": {"type": "line", "interpolate": "step-after", "color": "#dc143c", "strokeWidth": 1.6},
     "encoding": {
      "x": {"field": "x", "type": "quantitative", "axis": {"orient": "top", "values": [400,500,600,700,800,900,1000,1100,1200,1300,1400], "labels": false, "title": null, "tickSize": {"expr": "datum.value % 300 == 100 ? -7 : -3.5"}}},
      "y": {"field": "e", "type": "quantitative", "axis": {"orient": "right", "values": [0.9,0.92,0.94,0.96,0.98,1,1.02,1.04,1.06,1.08,1.1], "labels": false, "title": null, "tickSize": {"expr": "abs(datum.value*10 - round(datum.value*10)) < 0.001 ? -7 : -3.5"}}}}},
    {"data": {"name": "bins"}, "transform": [{"filter": "datum.p == 3"}],
     "mark": {"type": "rule", "color": "black", "strokeWidth": 1.2},
     "encoding": {"x": {"field": "m", "type": "quantitative", "axis": null}, "y": {"field": "rlo", "type": "quantitative", "axis": null}, "y2": {"field": "rhi"}}},
    {"data": {"name": "bins"}, "transform": [{"filter": "datum.p == 3"}],
     "mark": {"type": "point", "filled": true, "size": 38, "color": "black", "opacity": 1},
     "encoding": {"x": {"field": "m", "type": "quantitative", "axis": null}, "y": {"field": "r", "type": "quantitative", "axis": null}}},
    {"data": {"values": [{}]}, "mark": {"type": "rule", "color": "#dc143c", "strokeWidth": 2},
     "encoding": {"x": {"datum": 341, "axis": null}, "x2": {"datum": 440}, "y": {"datum": 0.9092, "axis": null}}},
    {"data": {"values": [{"t": "ηₜ, σ(ηₜ) = 8.8"}]}, "mark": {"type": "text", "align": "right", "baseline": "middle", "fontSize": 21},
     "encoding": {"x": {"datum": 874, "axis": null}, "y": {"datum": 0.9092, "axis": null}, "text": {"field": "t"}}},
    {"data": {"values": [{"t": "+1.2"}]}, "mark": {"type": "text", "align": "left", "baseline": "middle", "fontSize": 14},
     "encoding": {"x": {"datum": 880, "axis": null}, "y": {"datum": 0.9174, "axis": null}, "text": {"field": "t"}}},
    {"data": {"values": [{"t": "−1.4"}]}, "mark": {"type": "text", "align": "left", "baseline": "middle", "fontSize": 14},
     "encoding": {"x": {"datum": 880, "axis": null}, "y": {"datum": 0.9028, "axis": null}, "text": {"field": "t"}}},
    {"data": {"values": [{"t": "pb"}]}, "mark": {"type": "text", "align": "left", "baseline": "middle", "fontSize": 22},
     "encoding": {"x": {"datum": 990, "axis": null}, "y": {"datum": 0.9092, "axis": null}, "text": {"field": "t"}}},
    {"data": {"values": [{"t": "Postfit (FO pQCD + BG + ηₜ)"}]}, "mark": {"type": "text", "align": "left", "baseline": "middle", "fontSize": 20.5, "fontWeight": "bold"},
     "encoding": {"x": {"datum": 368, "axis": null}, "y": {"datum": 1.0965, "axis": null}, "text": {"field": "t"}}},
    {"data": {"values": [{"t": "[GeV]"}]}, "mark": {"type": "text", "align": "right", "baseline": "alphabetic", "fontSize": 22},
     "encoding": {"x": {"datum": 1453, "axis": null}, "y": {"datum": 0.8405, "axis": null}, "text": {"field": "t"}}},
    {"data": {"values": [{"t": "tt̄"}]}, "mark": {"type": "text", "align": "right", "baseline": "alphabetic", "fontSize": 19},
     "encoding": {"x": {"datum": 1232, "axis": null}, "y": {"datum": 0.8362, "axis": null}, "text": {"field": "t"}}},
    {"data": {"values": [{"t": "𝑚"}]}, "mark": {"type": "text", "align": "right", "baseline": "alphabetic", "fontSize": 26},
     "encoding": {"x": {"datum": 1180, "axis": null}, "y": {"datum": 0.8405, "axis": null}, "text": {"field": "t"}}}
   ]
  }
]
}
